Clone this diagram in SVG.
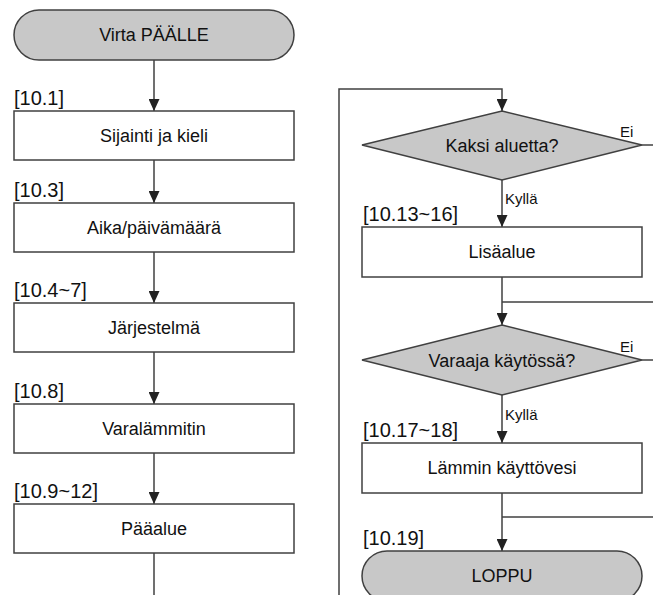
<svg xmlns="http://www.w3.org/2000/svg" width="653" height="595" viewBox="0 0 653 595">
<style>
.box{fill:#ffffff;stroke:#404040;stroke-width:1.5}
.term{fill:#c8c8c8;stroke:#404040;stroke-width:1.5}
.dia{fill:#c8c8c8;stroke:#404040;stroke-width:1.5}
.t{font-family:"Liberation Sans",Arial,sans-serif;font-size:18px;fill:#111;text-anchor:middle;dominant-baseline:central}
.lbl{font-family:"Liberation Sans",Arial,sans-serif;font-size:20px;fill:#111}
.sm{font-family:"Liberation Sans",Arial,sans-serif;font-size:15px;fill:#111}
.ln{fill:none;stroke:#404040;stroke-width:1.5}
</style>
<defs>
<marker id="arr" markerWidth="12" markerHeight="11" refX="12" refY="5.5" orient="auto" markerUnits="userSpaceOnUse">
<path d="M0,0 L12,5.5 L0,11 Z" fill="#222"/>
</marker>
</defs>
<g id="connectors">
<line class="ln" x1="154" y1="60" x2="154" y2="111" marker-end="url(#arr)"/>
<line class="ln" x1="154" y1="160" x2="154" y2="203" marker-end="url(#arr)"/>
<line class="ln" x1="154" y1="252" x2="154" y2="303" marker-end="url(#arr)"/>
<line class="ln" x1="154" y1="352" x2="154" y2="404" marker-end="url(#arr)"/>
<line class="ln" x1="154" y1="453" x2="154" y2="504" marker-end="url(#arr)"/>
<line class="ln" x1="154" y1="553" x2="154" y2="595"/>
<polyline class="ln" points="339,595 339,89 502,89 502,111" marker-end="url(#arr)"/>
<line class="ln" x1="642" y1="145" x2="653" y2="145"/>
<line class="ln" x1="502" y1="180" x2="502" y2="227" marker-end="url(#arr)"/>
<line class="ln" x1="502" y1="277" x2="502" y2="325" marker-end="url(#arr)"/>
<line class="ln" x1="502" y1="302" x2="653" y2="302"/>
<line class="ln" x1="642" y1="360" x2="653" y2="360"/>
<line class="ln" x1="502" y1="395" x2="502" y2="443" marker-end="url(#arr)"/>
<line class="ln" x1="502" y1="493" x2="502" y2="551" marker-end="url(#arr)"/>
<line class="ln" x1="502" y1="517" x2="653" y2="517"/>
<text class="sm" x="620" y="137">Ei</text>
<text class="sm" x="505" y="204">Kyllä</text>
<text class="sm" x="620" y="352">Ei</text>
<text class="sm" x="505" y="420">Kyllä</text>
</g>
<g id="start">
<rect class="term" x="14" y="10" width="280" height="50" rx="25" ry="25"/>
<text class="t" x="154" y="35">Virta PÄÄLLE</text>
</g>
<g id="sijainti">
<text class="lbl" x="14" y="105">[10.1]</text>
<rect class="box" x="14" y="111" width="280" height="49"/>
<text class="t" x="154" y="135.5">Sijainti ja kieli</text>
</g>
<g id="aika">
<text class="lbl" x="14" y="197">[10.3]</text>
<rect class="box" x="14" y="203" width="280" height="49"/>
<text class="t" x="154" y="227.5">Aika/päivämäärä</text>
</g>
<g id="jarjestelma">
<text class="lbl" x="14" y="297">[10.4~7]</text>
<rect class="box" x="14" y="303" width="280" height="49"/>
<text class="t" x="154" y="327.5">Järjestelmä</text>
</g>
<g id="varalammitin">
<text class="lbl" x="14" y="398">[10.8]</text>
<rect class="box" x="14" y="404" width="280" height="49"/>
<text class="t" x="154" y="428.5">Varalämmitin</text>
</g>
<g id="paaalue">
<text class="lbl" x="14" y="498">[10.9~12]</text>
<rect class="box" x="14" y="504" width="280" height="49"/>
<text class="t" x="154" y="528.5">Pääalue</text>
</g>
<g id="kaksi">
<polygon class="dia" points="502,111 642,145 502,180 362,145"/>
<text class="t" x="502" y="145.5">Kaksi aluetta?</text>
</g>
<g id="lisaalue">
<text class="lbl" x="363" y="221">[10.13~16]</text>
<rect class="box" x="362" y="227" width="280" height="50"/>
<text class="t" x="502" y="252">Lisäalue</text>
</g>
<g id="varaaja">
<polygon class="dia" points="502,325 642,360 502,395 362,360"/>
<text class="t" x="502" y="360.5">Varaaja käytössä?</text>
</g>
<g id="lammin">
<text class="lbl" x="363" y="437">[10.17~18]</text>
<rect class="box" x="362" y="443" width="280" height="50"/>
<text class="t" x="502" y="468">Lämmin käyttövesi</text>
</g>
<g id="loppu">
<text class="lbl" x="363" y="545">[10.19]</text>
<rect class="term" x="362" y="551" width="280" height="50" rx="25" ry="25"/>
<text class="t" x="502" y="576">LOPPU</text>
</g>
</svg>
